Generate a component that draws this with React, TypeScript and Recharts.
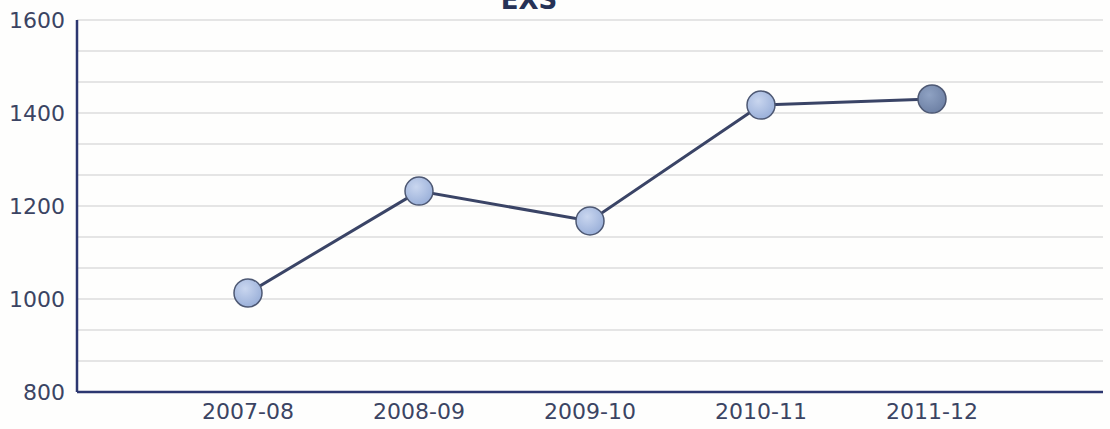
import React from 'react';
import { LineChart, Line, XAxis, YAxis, CartesianGrid } from 'recharts';

const CATEGORIES = ['2007-08', '2008-09', '2009-10', '2010-11', '2011-12'];
const EXS_VALUES = [1013, 1232, 1168, 1417, 1430];
const Y_TICKS = [800, 1000, 1200, 1400, 1600];
// minor grid every third of a major step
const GRID_VALUES = [
    800, 866.67, 933.33, 1000, 1066.67, 1133.33, 1200, 1266.67, 1333.33,
    1400, 1466.67, 1533.33, 1600,
];

const data = CATEGORIES.map((name, i) => ({ name, value: EXS_VALUES[i] }));

const TICK_STYLE = { fill: '#3b4463', fontSize: 22, fontFamily: 'DejaVu Sans, Verdana, sans-serif' };

const Dot = (props: any) => {
    const { cx, cy, index } = props;
    const last = index === data.length - 1;
    return (
        <circle
            cx={cx}
            cy={cy}
            r={14}
            fill={last ? 'url(#dotDark)' : 'url(#dotLight)'}
            stroke="#4d5873"
            strokeWidth={1.5}
        />
    );
};

const App = () => {
    return (
        <div style={{ position: 'absolute', left: 0, top: 0, width: 1110, height: 429, background: '#fefefd' }}>
            <LineChart
                width={1110}
                height={429}
                data={data}
                margin={{ top: 20, right: 7, bottom: 0, left: 0 }}
            >
                <defs>
                    <radialGradient id="dotLight" cx="40%" cy="35%" r="70%">
                        <stop offset="0%" stopColor="#c9d6ef" />
                        <stop offset="100%" stopColor="#98aed8" />
                    </radialGradient>
                    <radialGradient id="dotDark" cx="40%" cy="35%" r="70%">
                        <stop offset="0%" stopColor="#8fa2c3" />
                        <stop offset="100%" stopColor="#6c7fa3" />
                    </radialGradient>
                </defs>
                <CartesianGrid
                    horizontal
                    vertical={false}
                    horizontalValues={GRID_VALUES}
                    stroke="#dcdcdc"
                    strokeWidth={1.5}
                />
                <XAxis
                    dataKey="name"
                    padding={{ left: 171, right: 171 }}
                    height={37}
                    axisLine={{ stroke: '#2c3770', strokeWidth: 2.5 }}
                    tickLine={false}
                    tick={TICK_STYLE}
                    tickMargin={5}
                    interval={0}
                />
                <YAxis
                    domain={[800, 1600]}
                    ticks={Y_TICKS}
                    width={77}
                    axisLine={{ stroke: '#2c3770', strokeWidth: 2.5 }}
                    tickLine={false}
                    tick={TICK_STYLE}
                    tickMargin={6}
                />
                <Line
                    type="linear"
                    dataKey="value"
                    stroke="#3a4466"
                    strokeWidth={3}
                    dot={<Dot />}
                    activeDot={false}
                    isAnimationActive={false}
                />
            </LineChart>
            <svg width={1110} height={30} style={{ position: 'absolute', left: 0, top: 0, overflow: 'visible' }}>
                <text
                    x={529}
                    y={9}
                    textAnchor="middle"
                    fill="#263256"
                    fontSize={26}
                    fontWeight="bold"
                    fontFamily="DejaVu Sans, Verdana, sans-serif"
                >
                    EXS
                </text>
            </svg>
        </div>
    );
};

export default App;
